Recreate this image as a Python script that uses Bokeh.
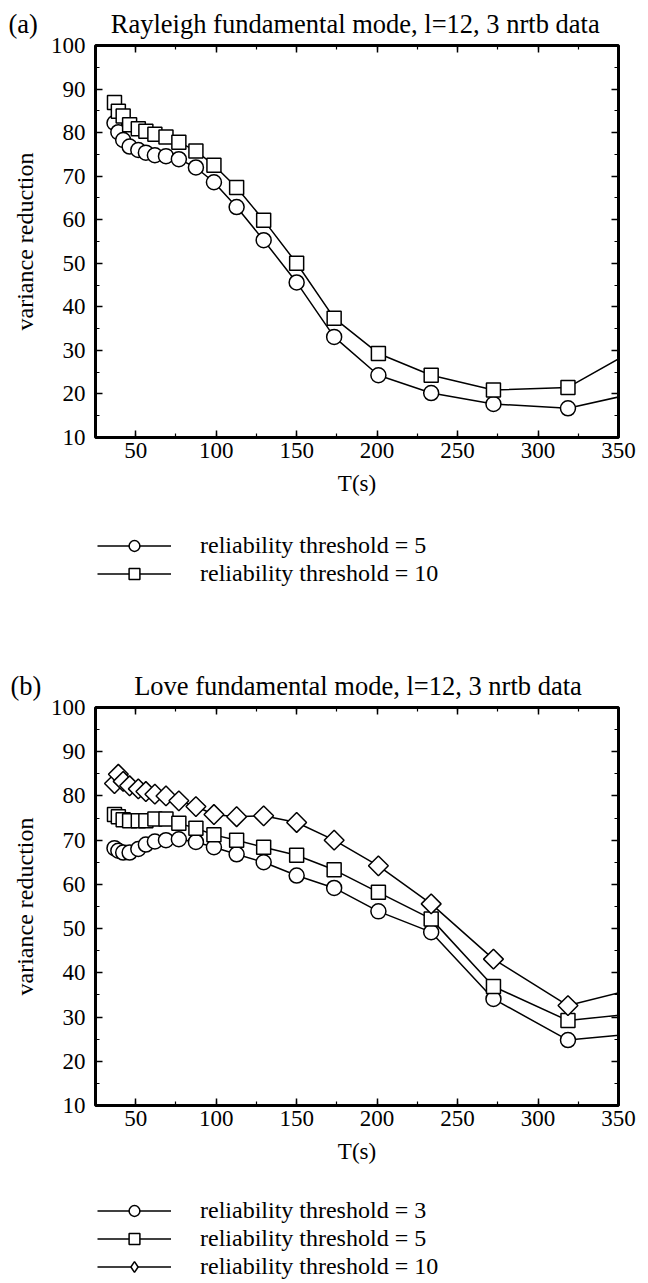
import numpy as np
from bokeh.plotting import figure
from bokeh.models import (Range1d, LinearAxis, SingleIntervalTicker, Legend,
                          LegendItem, CustomLabelingPolicy)
from bokeh.layouts import column
from bokeh.embed import file_html
from bokeh.resources import INLINE

# ---------------- data ----------------
period_s = [36.8, 39.2, 42.2, 46.2, 51.6, 56.3, 61.9, 68.8, 76.8, 87.4,
            98.6, 112.7, 129.5, 150.0, 173.3, 200.8, 233.6, 272.3, 318.6, 373.0]

rayleigh_thr5 = [82.2, 80.1, 78.3, 76.8, 76.0, 75.4, 74.8, 74.6, 73.9, 72.0,
                 68.6, 62.9, 55.3, 45.6, 33.1, 24.3, 20.2, 17.7, 16.7, 21.2]
rayleigh_thr10 = [86.9, 84.9, 83.8, 81.8, 80.9, 80.3, 79.6, 79.0, 77.8, 75.8,
                  72.5, 67.4, 59.9, 50.0, 37.4, 29.3, 24.3, 20.9, 21.5, 32.8]

love_thr3 = [68.2, 67.6, 67.2, 67.2, 68.0, 69.0, 69.7, 70.0, 70.2, 69.6,
             68.4, 66.8, 65.0, 62.0, 59.2, 53.9, 49.2, 34.1, 24.8, 26.7]
love_thr5 = [75.8, 75.3, 74.6, 74.4, 74.4, 74.4, 74.8, 74.8, 73.8, 72.7,
             71.2, 70.0, 68.4, 66.6, 63.3, 58.2, 52.2, 36.9, 29.2, 31.3]
love_thr10 = [82.8, 84.9, 83.3, 82.3, 81.6, 81.0, 80.4, 80.0, 78.9, 77.6,
              75.8, 75.3, 75.5, 74.0, 70.0, 64.2, 55.6, 43.1, 32.6, 37.6]

rayleigh_labels = ["reliability threshold = 5", "reliability threshold = 10"]
love_labels = ["reliability threshold = 3", "reliability threshold = 5",
               "reliability threshold = 10"]

rayleigh_tag = "(a)"
love_tag = "(b)"
rayleigh_title = "Rayleigh fundamental mode, l=12, 3 nrtb data"
love_title = "Love fundamental mode, l=12, 3 nrtb data"

x_limits = (25, 350)
y_limits = (10, 100)
x_tick_step = 50
y_tick_step = 10

FONT = "Liberation Serif"
NBSP = "\u00a0"

no_labels = CustomLabelingPolicy(
    code="const all = [...indices]; for (const i of all) indices.unset(i); return indices")


def style_axis(ax, show_labels=True):
    ax.axis_line_color = None
    ax.major_tick_in = 7
    ax.major_tick_out = 0
    ax.minor_tick_in = 4
    ax.minor_tick_out = 0
    ax.major_tick_line_width = 1.5
    ax.minor_tick_line_width = 1.2
    ax.major_tick_line_color = "black"
    ax.minor_tick_line_color = "black"
    ax.major_label_text_font = FONT
    ax.major_label_text_color = "black"
    if show_labels:
        ax.major_label_text_font_size = "23px"
    else:
        ax.major_label_text_font_size = "0px"
        ax.major_label_standoff = 0
        ax.major_label_policy = no_labels
    ax.axis_label_text_font = FONT
    ax.axis_label_text_font_style = "normal"
    ax.axis_label_text_color = "black"


def add_series(p, series, markers, visible=True):
    out = []
    for ys, mk in zip(series, markers):
        lr = p.line(period_s, ys, line_color="black", line_width=1.5,
                    visible=visible)
        if mk == "diamond" and visible:
            # diamonds of the reference are squares turned by 45 degrees
            sr = p.scatter(period_s, ys, marker="square", angle=np.pi / 4,
                           size=14, fill_color="white", line_color="black",
                           line_width=1.5)
        else:
            sr = p.scatter(period_s, ys, marker=mk,
                           size=15 if mk == "circle" else 14,
                           fill_color="white", line_color="black",
                           line_width=1.5, visible=visible)
        out.append([lr, sr])
    return out


def make_panel(tag, title, n_space, tag_offset, series, markers, height,
               top_border, bottom_border, title_standoff):
    p = figure(width=648, height=height, output_backend="svg",
               toolbar_location=None,
               x_range=Range1d(*x_limits), y_range=Range1d(*y_limits),
               x_axis_location=None, y_axis_location=None,
               min_border_left=95, min_border_right=30,
               min_border_top=top_border, min_border_bottom=bottom_border)
    p.grid.visible = False
    p.outline_line_color = "black"
    p.outline_line_width = 3
    p.background_fill_color = "white"
    p.border_fill_color = "white"

    xt = lambda: SingleIntervalTicker(interval=x_tick_step, num_minor_ticks=2)
    yt = lambda: SingleIntervalTicker(interval=y_tick_step, num_minor_ticks=2)

    xb = LinearAxis(ticker=xt(), axis_label="T(s)")
    style_axis(xb)
    xb.major_label_standoff = 5
    xb.axis_label_text_font_size = "23px"
    xb.axis_label_standoff = 10
    p.add_layout(xb, "below")

    yl = LinearAxis(ticker=yt(), axis_label="variance reduction")
    style_axis(yl)
    yl.major_label_standoff = 10
    yl.axis_label_text_font_size = "24px"
    yl.axis_label_standoff = 10
    p.add_layout(yl, "left")

    xa = LinearAxis(ticker=xt())
    style_axis(xa, show_labels=False)
    p.add_layout(xa, "above")
    yr = LinearAxis(ticker=yt())
    style_axis(yr, show_labels=False)
    p.add_layout(yr, "right")

    # panel tag and title share one line, as in the reference
    p.title.text = tag + NBSP * n_space + title
    p.title.align = "left"
    p.title.offset = tag_offset
    p.title.text_font = FONT
    p.title.text_font_size = "26.5px"
    p.title.text_font_style = "normal"
    p.title.text_color = "black"
    p.title.standoff = title_standoff

    add_series(p, series, markers)
    return p


def make_legend(series, labels, markers, height, legend_top, gap, x_left):
    q = figure(width=648, height=height, output_backend="svg",
               toolbar_location=None, x_range=Range1d(*x_limits),
               y_range=Range1d(*y_limits), x_axis_location=None,
               y_axis_location=None, min_border=0)
    q.grid.visible = False
    q.outline_line_color = None
    q.background_fill_color = "white"
    q.border_fill_color = "white"
    pairs = add_series(q, series, markers, visible=False)
    items = [LegendItem(label=lab, renderers=rs)
             for lab, rs in zip(labels, pairs)]
    n = len(labels)
    leg_h = n * 27 + (n - 1) * gap
    leg = Legend(items=items,
                 location=(x_left, int(height - legend_top - leg_h)),
                 glyph_width=74, glyph_height=27, label_height=27,
                 spacing=gap, padding=0, margin=0, label_standoff=29,
                 border_line_color=None, background_fill_alpha=0,
                 inactive_fill_alpha=0,
                 label_text_font=FONT, label_text_font_size="24px",
                 label_text_color="black")
    q.add_layout(leg, "center")
    return q


p1 = make_panel(rayleigh_tag, rayleigh_title, 11, -87,
                [rayleigh_thr5, rayleigh_thr10], ["circle", "square"],
                515, 42, 78, 13)
l1 = make_legend([rayleigh_thr5, rayleigh_thr10], rayleigh_labels,
                 ["circle", "square"], 126, 17, 1, 2)
p2 = make_panel(love_tag, love_title, 14, -85,
                [love_thr3, love_thr5, love_thr10],
                ["circle", "square", "diamond"], 540, 66, 76, 14)
l2 = make_legend([love_thr3, love_thr5, love_thr10], love_labels,
                 ["circle", "square", "diamond"], 102, 16, 1, 2)

layout = column(p1, l1, p2, l2, spacing=0)
open("out.html", "w").write(file_html(layout, INLINE))
